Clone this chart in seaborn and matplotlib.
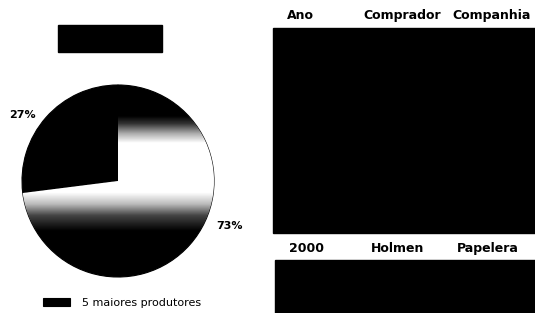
import numpy as np
import matplotlib
matplotlib.use("Agg")
import matplotlib.pyplot as plt
from matplotlib.colors import LinearSegmentedColormap
from matplotlib.patches import Rectangle
import seaborn as sns

# data
slice_labels = ["5 maiores produtores", "Outros"]
slice_values = [27, 73]
pct_labels = ["27%", "73%"]
table_header = ["Ano", "Comprador", "Companhia"]
table_row = ["2000", "Holmen", "Papelera"]

sns.set_theme(style="white")
plt.rcParams["font.family"] = ["DejaVu Sans"]
plt.rcParams["text.color"] = "black"

W, H = 535, 313
fig = plt.figure(figsize=(W / 100, H / 100), dpi=100)
fig.patch.set_facecolor("white")

# blacked-out title box
fig.patches.append(Rectangle((58 / W, 1 - 52 / H), 104 / W, 27 / H,
                             transform=fig.transFigure, color="black"))

# pie
cx, cy, r = 118, 181, 96
ax = fig.add_axes([(cx - r) / W, 1 - (cy + r) / H, 2 * r / W, 2 * r / H])
wedges, _ = ax.pie(slice_values, startangle=90, counterclock=True,
                   colors=["black", "white"],
                   wedgeprops=dict(edgecolor="black", linewidth=0.8))
ax.set_xlim(-1, 1)
ax.set_ylim(-1, 1)
ax.set_aspect("auto")

# shaded fill of the big slice (dark top/bottom, white band)
cmap = LinearSegmentedColormap.from_list(
    "band",
    [(0.0, "black"), (0.24, "black"), (0.32, "#444444"), (0.38, "#bbbbbb"),
     (0.44, "white"), (0.70, "white"), (0.75, "#aaaaaa"), (0.80, "#333333"),
     (0.84, "black"), (1.0, "black")])
grad = np.linspace(0, 1, 256).reshape(-1, 1)
img = ax.imshow(grad, extent=[-1, 1, -1, 1], origin="lower", cmap=cmap,
                aspect="auto", zorder=wedges[1].get_zorder() + 0.1)
img.set_clip_path(wedges[1])
ax.axis("off")

ax.text(-1.0, 0.69, pct_labels[0], ha="center", va="center",
        fontsize=8, fontweight="heavy", color="black")
ax.text(1.16, -0.47, pct_labels[1], ha="center", va="center",
        fontsize=8, fontweight="heavy", color="black")

leg = fig.legend([wedges[0]], [slice_labels[0]], loc="center",
                 bbox_to_anchor=(122 / W, 1 - 303 / H), frameon=False,
                 fontsize=8, handlelength=2.4, handleheight=0.7,
                 handletextpad=1.1, labelcolor="black")

# table (right side)
tx = fig.add_axes([270 / W, 0, 265 / W, 1])
tx.set_xlim(0, 265)
tx.set_ylim(H, 0)
tx.axis("off")
head_x = [30, 132, 222]
row_x = [37, 128, 218]
for x, t in zip(head_x, table_header):
    tx.text(x, 19, t, ha="center", va="baseline", fontsize=9,
            fontweight="heavy", color="black")
for x, t in zip(row_x, table_row):
    tx.text(x, 252, t, ha="center", va="baseline", fontsize=9,
            fontweight="heavy", color="black")
tx.axhspan(28, 233, xmin=3 / 265, xmax=1, color="black")
tx.axhspan(260, 313, xmin=5 / 265, xmax=1, color="black")

fig.savefig("out.png", dpi=100)
